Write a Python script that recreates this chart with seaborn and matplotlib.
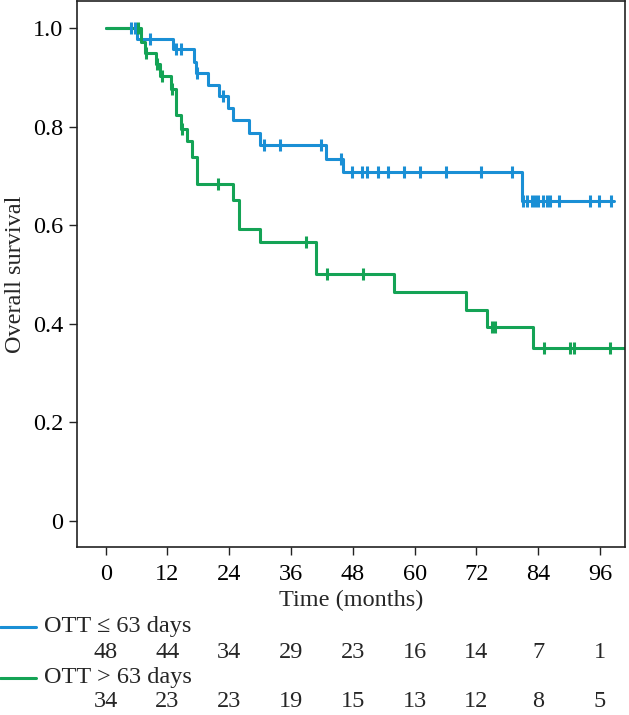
import numpy as np
import pandas as pd
import matplotlib
matplotlib.use("Agg")
import matplotlib.pyplot as plt
import seaborn as sns
from matplotlib.lines import Line2D

# step curves: time of each drop and survival after it
blue_times = [0, 6.0, 13.0, 17.1, 17.6, 19.8, 22.1, 23.8, 24.8, 27.8, 29.9, 42.7, 46.0, 80.9, 98.7]
blue_surv = [1.0, 0.977, 0.957, 0.931, 0.908, 0.884, 0.863, 0.837, 0.813, 0.787, 0.762, 0.735, 0.708, 0.650, 0.650]
blue_cens = [4.9, 5.6, 8.7, 13.7, 14.6, 17.7, 22.8, 30.7, 33.8, 41.9, 45.7, 47.9, 49.7, 50.8,
             52.9, 54.8, 58.0, 61.0, 66.0, 72.9, 79.0, 81.0, 81.9, 82.7, 83.3, 84.0, 85.0, 85.8,
             86.3, 88.0, 94.1, 95.9, 98.2]

green_times = [0, 6.8, 7.6, 9.85, 10.6, 12.7, 13.7, 14.7, 15.8, 16.8, 17.7, 24.7, 25.8, 29.9,
               40.8, 56.0, 70.0, 74.0, 83.0, 103]
green_surv = [1.0, 0.971, 0.950, 0.928, 0.902, 0.877, 0.823, 0.796, 0.770, 0.739, 0.683, 0.652,
              0.593, 0.565, 0.501, 0.465, 0.428, 0.393, 0.351, 0.351]
green_cens = [6.2, 7.8, 9.9, 11.0, 12.9, 14.9, 21.8, 38.9, 42.9, 49.9, 75.0, 75.7, 85.1, 90.2, 91.0, 98.0]

risk_times = [0, 12, 24, 36, 48, 60, 72, 84, 96]
blue_risk = [48, 44, 34, 29, 23, 16, 14, 7, 1]
green_risk = [34, 23, 23, 19, 15, 13, 12, 8, 5]

labels = ["OTT \u2264 63 days", "OTT > 63 days"]
colors = ["#1a8fd5", "#14a355"]

sns.set_theme(style="white")
plt.rcParams["font.family"] = ["Liberation Serif", "DejaVu Serif"]
fs = 17.5

fig = plt.figure(figsize=(6.29, 7.15), dpi=100)
ax = fig.add_axes([0.123, 0.235, 0.871, 0.763])

curves = [(blue_times, blue_surv, blue_cens), (green_times, green_surv, green_cens)]
for (t, s, c), col in zip(curves, colors):
    df = pd.DataFrame({"time": t, "surv": s})
    sns.lineplot(data=df, x="time", y="surv", drawstyle="steps-post", color=col,
                 linewidth=2.2, ax=ax, estimator=None, sort=True)
    idx = np.searchsorted(np.array(t), np.array(c), side="right") - 1
    cdf = pd.DataFrame({"time": c, "surv": np.array(s)[idx]})
    sns.scatterplot(data=cdf, x="time", y="surv", marker="|", s=85, linewidth=2.2,
                    color=col, ax=ax, zorder=3)

ax.set_xlim(-5.5, 100.9)
ax.set_ylim(-0.053, 1.054)
ax.set_xticks(risk_times)
ax.set_yticks([0, 0.2, 0.4, 0.6, 0.8, 1.0])
ax.set_yticklabels(["0", "0.2", "0.4", "0.6", "0.8", "1.0"])
ax.set_xlabel("Time (months)", fontsize=fs, labelpad=4)
ax.set_ylabel("Overall survival", fontsize=fs, labelpad=5)
ax.tick_params(axis="both", which="both", direction="out", length=6, width=1.0,
               labelsize=fs, bottom=True, left=True, colors="#222222", labelcolor="black")
ax.tick_params(axis="x", pad=6)
ax.tick_params(axis="y", pad=4)
for sp in ax.spines.values():
    sp.set_color("#222222")
    sp.set_linewidth(1.2)

# number at risk table below the axes
trans = ax.get_xaxis_transform()
rows_y = [-0.146, -0.193, -0.240, -0.284]
for k, (risk, lab, col) in enumerate(zip([blue_risk, green_risk], labels, colors)):
    yl = rows_y[2 * k]
    yn = rows_y[2 * k + 1]
    yfig = ax.transAxes.transform((0, yl))[1] / fig.bbox.height
    fig.add_artist(Line2D([0.0, 0.057], [yfig, yfig], transform=fig.transFigure,
                          color=col, linewidth=2.2))
    ax.text(-0.061, yl, lab, transform=ax.transAxes, ha="left", va="center", fontsize=fs)
    for xt, n in zip(risk_times, risk):
        ax.text(xt, yn, str(n), transform=trans, ha="center", va="center", fontsize=fs)

fig.savefig("out.png", dpi=100)
